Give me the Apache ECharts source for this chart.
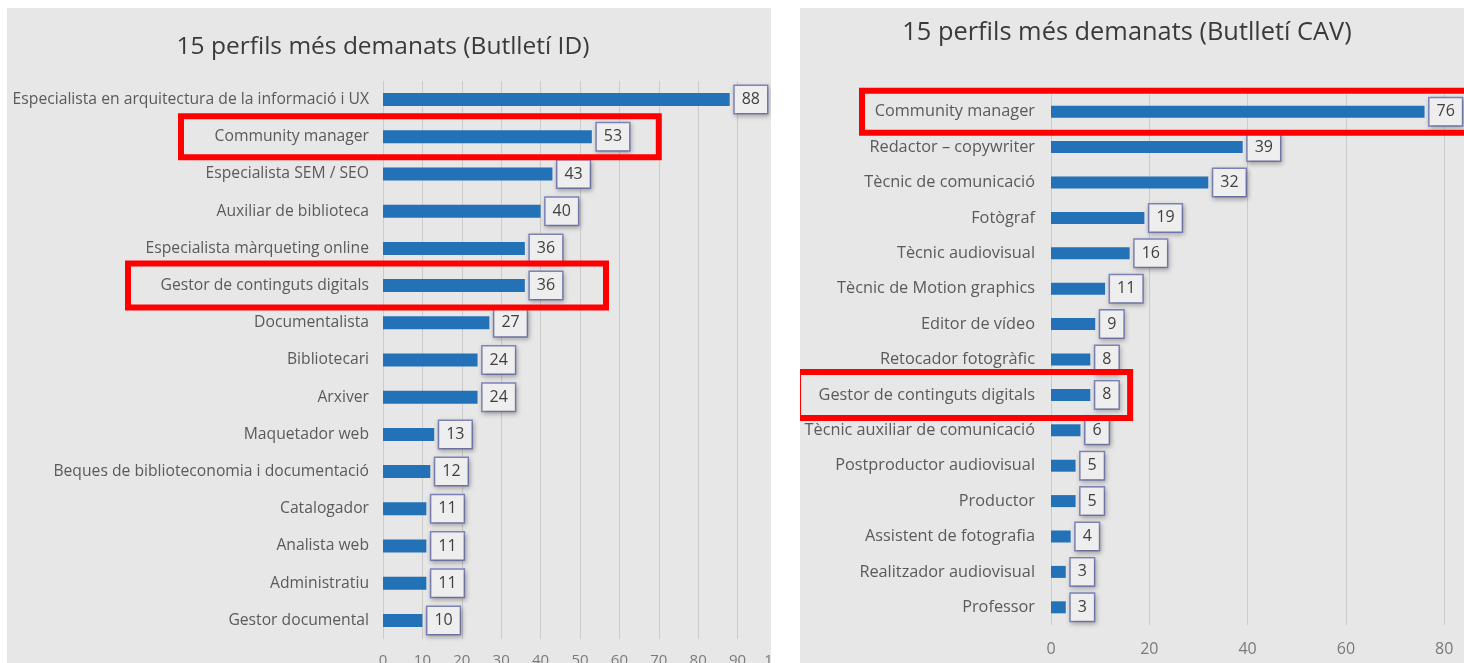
<!DOCTYPE html>
<html>
<head>
<meta charset="utf-8">
<script src="https://cdn.jsdelivr.net/npm/echarts@6/dist/echarts.min.js"></script>
<style>
  html, body { margin: 0; padding: 0; background: #ffffff; width: 1464px; height: 663px; overflow: hidden; }
  .panel { position: absolute; overflow: hidden; background: #e7e7e7; }
</style>
</head>
<body>
<div class="panel" style="left:7px;top:8px;width:764px;height:655px;">
  <div id="c1" style="width:800px;height:680px;"></div>
</div>
<div class="panel" style="left:800px;top:8px;width:664px;height:655px;">
  <div id="c2" style="width:760px;height:680px;"></div>
</div>
<script>
// ---- Data ----
const titleID = "15 perfils més demanats (Butlletí ID)";
const categoriesID = [
  "Especialista en arquitectura de la informació i UX",
  "Community manager",
  "Especialista SEM / SEO",
  "Auxiliar de biblioteca",
  "Especialista màrqueting online",
  "Gestor de continguts digitals",
  "Documentalista",
  "Bibliotecari",
  "Arxiver",
  "Maquetador web",
  "Beques de biblioteconomia i documentació",
  "Catalogador",
  "Analista web",
  "Administratiu",
  "Gestor documental"
];
const valuesID = [88, 53, 43, 40, 36, 36, 27, 24, 24, 13, 12, 11, 11, 11, 10];
const ticksID = { min: 0, max: 100, interval: 10 };
const highlightID = ["Community manager", "Gestor de continguts digitals"];

const titleCAV = "15 perfils més demanats (Butlletí CAV)";
const categoriesCAV = [
  "Community manager",
  "Redactor – copywriter",
  "Tècnic de comunicació",
  "Fotògraf",
  "Tècnic audiovisual",
  "Tècnic de Motion graphics",
  "Editor de vídeo",
  "Retocador fotogràfic",
  "Gestor de continguts digitals",
  "Tècnic auxiliar de comunicació",
  "Postproductor audiovisual",
  "Productor",
  "Assistent de fotografia",
  "Realitzador audiovisual",
  "Professor"
];
const valuesCAV = [76, 39, 32, 19, 16, 11, 9, 8, 8, 6, 5, 5, 4, 3, 3];
const ticksCAV = { min: 0, max: 100, interval: 20 };
const highlightCAV = ["Community manager", "Gestor de continguts digitals"];

// ---- Styling ----
const FONT = "'Open Sans', sans-serif";
const BAR = '#2371b6';

function makeOption(cfg) {
  return {
    animation: false,
    textStyle: { fontFamily: FONT },
    title: {
      text: cfg.title,
      left: cfg.titleX, top: cfg.titleY, textAlign: 'center',
      textStyle: { fontFamily: FONT, fontSize: cfg.titleSize, fontWeight: 'normal', color: '#3a3a3a' }
    },
    grid: Object.assign({ containLabel: false, outerBoundsMode: 'none' }, cfg.grid),
    xAxis: {
      type: 'value', min: cfg.ticks.min, max: cfg.ticks.max, interval: cfg.ticks.interval,
      axisLine: { show: false }, axisTick: { show: false },
      splitLine: { show: true, lineStyle: { color: '#cbcbcb', width: 1 } },
      axisLabel: { color: '#7a7a7a', fontSize: cfg.tickSize, margin: cfg.xMargin, fontFamily: FONT }
    },
    yAxis: {
      type: 'category', inverse: true, data: cfg.categories,
      axisLine: { show: false }, axisTick: { show: false },
      axisLabel: { color: '#5a5a5a', fontSize: cfg.fontSize, margin: cfg.yMargin, fontFamily: FONT }
    },
    series: [{
      type: 'bar', data: cfg.values, barWidth: cfg.barWidth,
      itemStyle: { color: BAR },
      label: {
        show: true, position: 'right', distance: 5,
        color: '#404040', fontSize: cfg.valueSize, fontFamily: FONT,
        backgroundColor: '#eeeeee', borderColor: '#7f86bb', borderWidth: 1.5,
        padding: [6, 7, 5, 7],
        shadowColor: 'rgba(0,0,0,0.25)', shadowBlur: 5, shadowOffsetX: 1, shadowOffsetY: 2
      }
    }]
  };
}

function addBoxes(chart, cfg) {
  const els = cfg.boxes.map(b => {
    const yc = chart.convertToPixel({ yAxisIndex: 0 }, b.cat);
    const x0 = chart.convertToPixel({ xAxisIndex: 0 }, 0) + b.leftOffset;
    const x1 = chart.convertToPixel({ xAxisIndex: 0 }, b.rightValue);
    return {
      type: 'rect', z: 100,
      shape: { x: x0, y: yc - b.h / 2, width: x1 - x0, height: b.h },
      style: { fill: 'none', stroke: '#ff0000', lineWidth: 6 }
    };
  });
  chart.setOption({ graphic: els });
}

const cfgID = {
  title: titleID, titleX: 371, titleY: 22, titleSize: 24.5,
  categories: categoriesID, values: valuesID, ticks: ticksID,
  grid: { left: 376, right: 30, top: 73, bottom: 49 },
  fontSize: 15.7, tickSize: 15, valueSize: 16, xMargin: 14, yMargin: 14, barWidth: 13,
  boxes: [
    { cat: highlightID[0], leftOffset: -202, rightValue: 70, h: 41 },
    { cat: highlightID[1], leftOffset: -255, rightValue: 56.6, h: 44 }
  ]
};
const cfgCAV = {
  title: titleCAV, titleX: 322, titleY: 7, titleSize: 25.4,
  categories: categoriesCAV, values: valuesCAV, ticks: ticksCAV,
  grid: { left: 251, right: 17.5, top: 86, bottom: 63 },
  fontSize: 16.3, tickSize: 16, valueSize: 16, xMargin: 16, yMargin: 16, barWidth: 12,
  boxes: [
    { cat: highlightCAV[0], leftOffset: -189, rightValue: 90, h: 42 },
    { cat: highlightCAV[1], leftOffset: -253, rightValue: 16.1, h: 46 }
  ]
};

const c1 = echarts.init(document.getElementById('c1'), null, { renderer: 'canvas' });
c1.setOption(makeOption(cfgID));
addBoxes(c1, cfgID);
const c2 = echarts.init(document.getElementById('c2'), null, { renderer: 'canvas' });
c2.setOption(makeOption(cfgCAV));
addBoxes(c2, cfgCAV);
</script>
</body>
</html>
